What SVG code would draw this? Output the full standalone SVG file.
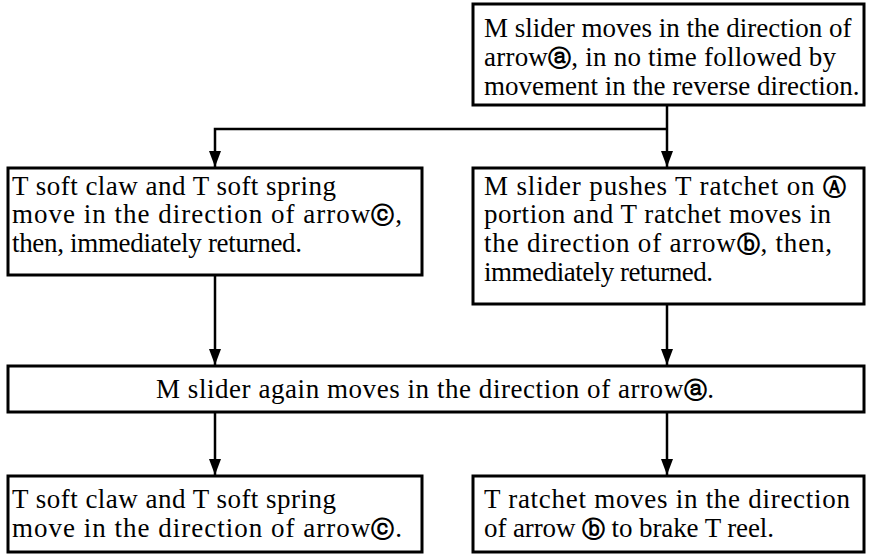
<svg xmlns="http://www.w3.org/2000/svg" width="872" height="556" viewBox="0 0 872 556">
<style>
.box{fill:#fff;stroke:#000;stroke-width:3}
.t{font-family:"Liberation Serif","Times New Roman",serif;font-size:27px;fill:#000}
.c{font-family:"DejaVu Sans",sans-serif;font-weight:bold;font-size:23px}
.con{fill:none;stroke:#000;stroke-width:2.5}
</style>
<defs>
<marker id="ah" markerWidth="16" markerHeight="12" refX="16" refY="6" orient="auto" markerUnits="userSpaceOnUse" viewBox="0 0 16 12">
<path d="M0,0 L16,6 L0,12 Z" fill="#000"/>
</marker>
</defs>
<rect width="872" height="556" fill="#fff"/>
<g id="connectors">
<path class="con" d="M667,105 V167" marker-end="url(#ah)"/>
<path class="con" d="M667,129 H215 V167" marker-end="url(#ah)"/>
<path class="con" d="M215,275 V365" marker-end="url(#ah)"/>
<path class="con" d="M667,304 V365" marker-end="url(#ah)"/>
<path class="con" d="M215,412 V475" marker-end="url(#ah)"/>
<path class="con" d="M667,412 V475" marker-end="url(#ah)"/>
</g>
<g id="n1">
<rect class="box" x="473" y="4" width="391" height="101"/>
<text class="t" x="484" y="37">M slider moves in the direction of</text>
<text class="t" x="484" y="66" textLength="352" lengthAdjust="spacing">arrow<tspan class="c">ⓐ</tspan>, in no time followed by</text>
<text class="t" x="484" y="95">movement in the reverse direction.</text>
</g>
<g id="n2">
<rect class="box" x="8" y="168" width="414" height="107"/>
<text class="t" x="12" y="195" textLength="324" lengthAdjust="spacing">T soft claw and T soft spring</text>
<text class="t" x="12" y="223" textLength="390" lengthAdjust="spacing">move in the direction of arrow<tspan class="c">ⓒ</tspan>,</text>
<text class="t" x="12" y="252" textLength="290" lengthAdjust="spacing">then, immediately returned.</text>
</g>
<g id="n3">
<rect class="box" x="473" y="168" width="391" height="136"/>
<text class="t" x="484" y="195" textLength="362" lengthAdjust="spacing">M slider pushes T ratchet on <tspan class="c">Ⓐ</tspan></text>
<text class="t" x="484" y="223" textLength="347" lengthAdjust="spacing">portion and T ratchet moves in</text>
<text class="t" x="484" y="252" textLength="348" lengthAdjust="spacing">the direction of arrow<tspan class="c">ⓑ</tspan>, then,</text>
<text class="t" x="484" y="281" textLength="229" lengthAdjust="spacing">immediately returned.</text>
</g>
<g id="n4">
<rect class="box" x="8" y="366" width="856" height="46"/>
<text class="t" x="156" y="398" textLength="558" lengthAdjust="spacing">M slider again moves in the direction of arrow<tspan class="c">ⓐ</tspan>.</text>
</g>
<g id="n5">
<rect class="box" x="8" y="476" width="414" height="76"/>
<text class="t" x="12" y="508" textLength="324" lengthAdjust="spacing">T soft claw and T soft spring</text>
<text class="t" x="12" y="537" textLength="390" lengthAdjust="spacing">move in the direction of arrow<tspan class="c">ⓒ</tspan>.</text>
</g>
<g id="n6">
<rect class="box" x="473" y="476" width="391" height="76"/>
<text class="t" x="484" y="508" textLength="366" lengthAdjust="spacing">T ratchet moves in the direction</text>
<text class="t" x="484" y="537" textLength="290" lengthAdjust="spacing">of arrow <tspan class="c">ⓑ</tspan> to brake T reel.</text>
</g>
</svg>
